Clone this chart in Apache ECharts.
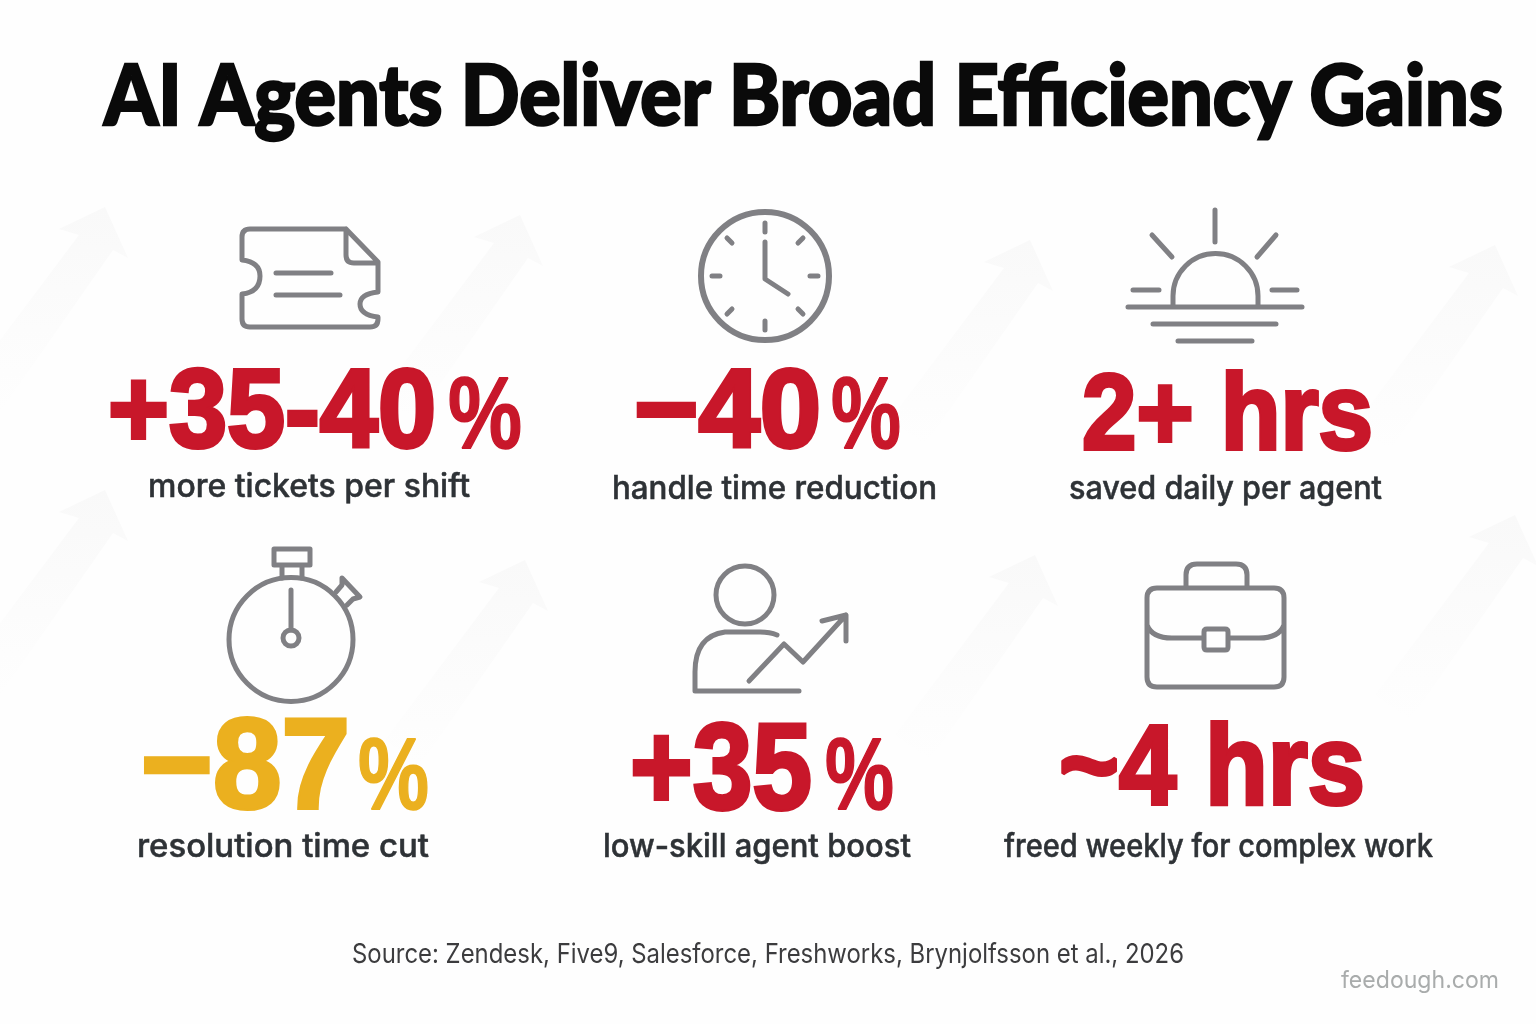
<!DOCTYPE html>
<html>
<head>
<meta charset="utf-8">
<title>AI Agents Deliver Broad Efficiency Gains</title>
<script src="https://cdn.jsdelivr.net/npm/echarts@6/dist/echarts.min.js"></script>
<style>
  html, body { margin: 0; padding: 0; background: #fefefe; }
  #main { width: 1536px; height: 1024px; }
</style>
</head>
<body>
<div id="main"></div>
<script>
// text
var titleText = 'AI Agents Deliver Broad Efficiency Gains';
var statNumbers = ['+35-40', '\u221240', '2+ hrs', '\u221287', '+35', '~4 hrs'];
var statUnits = ['%', '%', '', '%', '%', ''];
var statCaptions = ['more tickets per shift', 'handle time reduction', 'saved daily per agent',
  'resolution time cut', 'low-skill agent boost', 'freed weekly for complex work'];
var sourceText = 'Source: Zendesk, Five9, Salesforce, Freshworks, Brynjolfsson et al., 2026';
var watermarkText = 'feedough.com';

var RED = '#c8172a', YELLOW = '#ebb01f', GREY = '#808084';
var statColors = [RED, RED, RED, YELLOW, RED, RED];

// layout: [left, right, baseline y, font size]
var numberBoxes = [[108, 436, 448, 112], [634, 821, 448, 112], [1082, 1373, 450, 108],
  [141, 350, 810, 128], [630, 812, 810, 122], [1059, 1365, 805, 114]];
var unitBoxes = [[448, 522, 449, 102], [831, 901, 449, 102], null,
  [358, 429, 810, 102], [825, 894, 810, 102], null];
var captionBoxes = [[148, 470, 497], [612, 937, 499], [1069, 1382, 499],
  [137, 429, 857], [603, 911, 857], [1004, 1433, 857]];
var arrowTips = [[105, 207], [520, 215], [1030, 240], [1495, 245],
  [105, 490], [525, 560], [1035, 555], [1515, 515]];

// icon outlines
var iconPaths = [
  // ticket
  'M346 229H250Q242 229 242 237V260Q260 262 260 276Q260 292 242 294V319Q242 327 250 327H370Q378 327 378 319V317Q360 315 360 304Q360 294 378 292V262L346 229V255Q346 263 354 263H378' +
    'M276 273H331M276 295H340',
  // clock hands and ticks
  'M765 223V232M765 321V330M712 276H720M810 276H818M727 238L732 243M803 238L798 243M727 314L732 309M803 314L798 309' +
    'M765 242V279L788 294',
  // sun
  'M1215 210V242M1152 235L1172 257M1276 235L1257 257M1133 290H1159M1272 290H1297' +
    'M1173 307V296A42.5 42.5 0 0 1 1258 296V307M1128 307H1302M1153 324H1276M1178 341H1252',
  // stopwatch
  'M274 549H310V565H274ZM282 565V578M302 565V578M291 590V630' +
    'M336 592L342 585L342 578L360 597L353 599L347 605',
  // person with rising arrow
  'M777 635Q770 632 760 632H725Q695 636 695 672V691H799' +
    'M749 681L784 644L803 662L846 615M822 621L846 615V641',
  // briefcase
  'M1157 588H1274Q1284 588 1284 598V677Q1284 687 1274 687H1157Q1147 687 1147 677V598Q1147 588 1157 588Z' +
    'M1186 588V575Q1186 564 1197 564H1236Q1247 564 1247 575V588' +
    'M1147 625Q1152 638 1172 638H1204M1228 638H1259Q1279 638 1284 625' +
    'M1207 629H1225Q1228 629 1228 632V647Q1228 650 1225 650H1207Q1204 650 1204 647V632Q1204 629 1207 629Z'
];
var iconCircles = [[765, 276, 64, 6], [291, 639.5, 62, 5], [291, 638, 8, 5], [745, 595, 29, 5]];

var numFont = '"Liberation Sans", Arial, sans-serif';
var bodyFont = 'Inter, "Noto Sans", sans-serif';
var titleFont = 'Lato, Inter, sans-serif';
// how far under the baseline zrender puts the bottom of the text box, per font
var descents = {};
descents[numFont] = 0.212;
descents[bodyFont] = 0.19;
descents[titleFont] = 0.19;

var measureCtx = document.createElement('canvas').getContext('2d');

// squeeze a line of text into the width it takes in the picture
function fitText(text, left, right, baseline, size, family, weight, color, heavy) {
  var font = weight + ' ' + size + 'px ' + family;
  measureCtx.font = font;
  var el = {
    type: 'text',
    x: left,
    y: baseline + size * descents[family],
    scaleX: (right - left) / measureCtx.measureText(text).width,
    silent: true,
    style: { text: text, font: font, fill: color, textAlign: 'left', textVerticalAlign: 'bottom', verticalAlign: 'bottom' }
  };
  if (heavy) {
    el.style.stroke = color;
    el.style.lineWidth = heavy;
  }
  return el;
}

function arrowShape(tip) {
  var x = tip[0], y = tip[1];
  return {
    type: 'polygon',
    silent: true,
    shape: { points: [[x, y], [x + 23, y + 51], [x + 8, y + 43], [x - 105, y + 205], [x - 140, y + 180], [x - 26, y + 28], [x - 46, y + 22]] },
    style: {
      fill: new echarts.graphic.LinearGradient(0, 0, 0, 1, [
        { offset: 0, color: '#f9f9f9' }, { offset: 1, color: '#fefefe' }
      ])
    }
  };
}

var elements = [];
arrowTips.forEach(function (tip) { elements.push(arrowShape(tip)); });

iconPaths.forEach(function (p, i) {
  echarts.graphic.registerShape('icon' + i, echarts.graphic.extendPath(p, {}));
  elements.push({
    type: 'icon' + i,
    silent: true,
    style: { fill: 'none', stroke: GREY, lineWidth: 5, lineCap: 'round', lineJoin: 'round' }
  });
});
iconCircles.forEach(function (c) {
  elements.push({
    type: 'circle',
    silent: true,
    shape: { cx: c[0], cy: c[1], r: c[2] },
    style: { fill: 'none', stroke: GREY, lineWidth: c[3] }
  });
});

elements.push(fitText(titleText, 104, 1503, 124, 84, titleFont, '900', '#0a0a0a', 2.5));
statNumbers.forEach(function (s, i) {
  var b = numberBoxes[i];
  elements.push(fitText(s, b[0], b[1], b[2], b[3], numFont, 'bold', statColors[i], 4));
  if (statUnits[i]) {
    var u = unitBoxes[i];
    elements.push(fitText(statUnits[i], u[0], u[1], u[2], u[3], numFont, 'bold', statColors[i], 1.5));
  }
  var c = captionBoxes[i];
  elements.push(fitText(statCaptions[i], c[0], c[1], c[2], 32, bodyFont, '500', '#2e3236', 0.5));
});
elements.push(fitText(sourceText, 352, 1184, 963, 27, bodyFont, '400', '#3c3c3e'));
elements.push(fitText(watermarkText, 1341, 1499, 988, 24, bodyFont, '400', '#a9acac'));

var chart = echarts.init(document.getElementById('main'));
chart.setOption({
  animation: false,
  backgroundColor: '#fefefe',
  graphic: { elements: elements }
});
</script>
</body>
</html>
